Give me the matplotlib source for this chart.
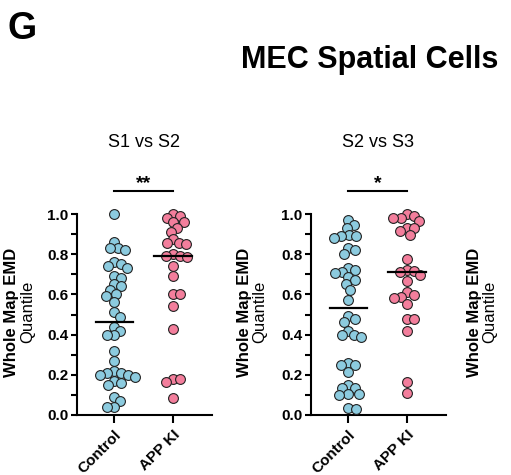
import numpy as np
from matplotlib import pyplot as plt

# values (whole map EMD quantile)
groups = ["Control", "APP KI"]
s1s2_control = [1.0, 0.86, 0.83, 0.83, 0.82, 0.76, 0.75, 0.74, 0.73, 0.69,
                0.68, 0.65, 0.64, 0.62, 0.60, 0.59, 0.56, 0.51, 0.49, 0.44,
                0.42, 0.40, 0.40, 0.32, 0.27, 0.22, 0.21, 0.21, 0.20, 0.20,
                0.19, 0.17, 0.16, 0.15, 0.09, 0.07, 0.04, 0.04]
s1s2_appki = [1.0, 0.99, 0.98, 0.96, 0.96, 0.93, 0.91, 0.875, 0.855, 0.855,
              0.85, 0.80, 0.79, 0.79, 0.785, 0.74, 0.69, 0.60, 0.60, 0.54,
              0.43, 0.18, 0.18, 0.166, 0.083]
s2s3_control = [0.97, 0.945, 0.93, 0.895, 0.89, 0.89, 0.88, 0.83, 0.82, 0.80,
                0.73, 0.72, 0.71, 0.705, 0.685, 0.67, 0.65, 0.62, 0.57, 0.493,
                0.48, 0.465, 0.42, 0.40, 0.40, 0.387, 0.26, 0.25, 0.25, 0.215,
                0.15, 0.133, 0.133, 0.105, 0.105, 0.10, 0.033, 0.028]
s2s3_appki = [1.0, 0.99, 0.98, 0.98, 0.965, 0.93, 0.93, 0.915, 0.898, 0.776,
              0.72, 0.715, 0.71, 0.695, 0.665, 0.61, 0.595, 0.585, 0.58, 0.55,
              0.48, 0.48, 0.42, 0.166, 0.108]
panels = [("S1 vs S2", "**", s1s2_control, s1s2_appki),
          ("S2 vs S3", "*", s2s3_control, s2s3_appki)]

colors = ["#8ccbdf", "#f37e9c"]
plt.rcParams['font.family'] = ['Liberation Sans', 'DejaVu Sans']


def swarm(ax, y, center, gap_px):
    """Greedy beeswarm (points may overlap a bit, like Prism)."""
    pts = ax.transData.transform(np.column_stack([np.full(len(y), center), y]))
    order = np.argsort(-np.asarray(y))
    placed = []
    xs = np.zeros(len(y))
    steps = np.arange(0, 40, 0.5)
    cands = np.concatenate([[0], np.ravel(np.column_stack([steps[1:], -steps[1:]]))])
    for i in order:
        px, py = pts[i]
        for off in cands:
            ok = all((px + off - qx) ** 2 + (py - qy) ** 2 >= gap_px ** 2
                     for qx, qy in placed)
            if ok:
                break
        placed.append((px + off, py))
        xs[i] = px + off
    inv = ax.transData.inverted()
    return inv.transform(np.column_stack([xs, pts[:, 1]]))[:, 0]


fig = plt.figure(figsize=(5.11, 4.75), dpi=100)
lefts = [77 / 511, 311 / 511]
for (title, stars, ctrl, app), left in zip(panels, lefts):
    ax = fig.add_axes([left, 60 / 475, 135 / 511, 201 / 475])
    ax.set_xlim(-0.64, 1.67)
    ax.set_ylim(0, 1.0)
    for k, vals in enumerate([ctrl, app]):
        xs = swarm(ax, vals, k, 7.2)
        ax.scatter(xs, vals, s=50, color=colors[k], edgecolor="#222222",
                   linewidth=0.8, zorder=3, clip_on=False)
        med = np.median(vals)
        ax.plot([k - 0.32, k + 0.32], [med, med], color="black", lw=1.6,
                zorder=4, clip_on=False)
    for s in ["top", "right"]:
        ax.spines[s].set_visible(False)
    ax.spines["left"].set_linewidth(1.5)
    ax.spines["bottom"].set_linewidth(1.5)
    ax.set_yticks(np.arange(0, 1.01, 0.2))
    ax.set_yticks(np.arange(0.1, 1.0, 0.2), minor=True)
    ax.set_yticklabels([f"{v:.1f}" for v in np.arange(0, 1.01, 0.2)],
                       fontsize=11, fontweight="bold")
    ax.tick_params(axis="y", which="both", length=4, width=1.5, pad=2)
    ax.set_xticks([0, 1])
    ax.set_xticklabels(groups, rotation=45, ha="right", rotation_mode="anchor",
                       fontsize=11, fontweight="bold")
    ax.tick_params(axis="x", length=6, width=1.5, pad=3)
    ax.plot([0, 1], [1.114, 1.114], color="black", lw=1.5, clip_on=False)
    ax.text(0.5, 1.15, stars, ha="center", va="center", fontsize=14,
            fontweight="bold")
    ax.text(0.5, 1.358, title, ha="center", va="center", fontsize=13)

# y axis labels (third one belongs to the cropped panel on the right)
for xb, xq in [(12, 28), (244, 260), (474, 490)]:
    fig.text(xb / 511, 1 - 312 / 475, "Whole Map EMD", rotation=90,
             ha="center", va="center", fontsize=12, fontweight="bold")
    fig.text(xq / 511, 1 - 312 / 475, "Quantile", rotation=90,
             ha="center", va="center", fontsize=12)

fig.text(22 / 511, 1 - 29 / 475, "G", ha="center", va="center",
         fontsize=27, fontweight="bold")
fig.text(370 / 511, 1 - 60 / 475, "MEC Spatial Cells", ha="center",
         va="center", fontsize=22, fontweight="bold")

fig.savefig("out.png", dpi=100)
